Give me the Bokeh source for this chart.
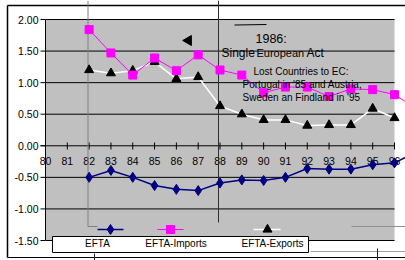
import math
from bokeh.plotting import figure
from bokeh.models import Range1d
from bokeh.core.properties import value
from bokeh.embed import file_html
from bokeh.resources import INLINE

# ---- data ----
years = [82, 83, 84, 85, 86, 87, 88, 89, 90, 91, 92, 93, 94, 95, 96, 97]
efta = [-0.50, -0.39, -0.50, -0.63, -0.69, -0.71, -0.59, -0.54, -0.55, -0.50,
        -0.36, -0.37, -0.37, -0.30, -0.27, -0.10]
efta_imports = [1.84, 1.47, 1.12, 1.39, 1.19, 1.44, 1.20, 1.12, 0.84, 0.93,
                0.93, 0.78, 0.90, 0.89, 0.81, 0.59]
efta_exports = [1.20, 1.15, 1.19, 1.33, 1.06, 1.09, 0.63, 0.50, 0.41, 0.41,
                0.32, 0.33, 0.33, 0.59, 0.44, float("nan")]
x_ticks = list(range(80, 97))
x_tick_labels = [str(v) for v in x_ticks]
y_ticks = [2.0, 1.5, 1.0, 0.5, 0.0, -0.5, -1.0, -1.5]
y_tick_labels = ["%.2f" % v for v in y_ticks]
series_names = ["EFTA", "EFTA-Imports", "EFTA-Exports"]

# ---- geometry ----
W, H = 405, 260
PXX, PXY = 21.8125, 63.143
X0 = 80 - 45 / PXX
X1 = X0 + W / PXX
Y1 = 2.0 + 19 / PXY
Y0 = Y1 - H / PXY


def px(page_x):
    return 80 + (page_x - 45) / PXX


def py(page_y):
    return 2.0 - (page_y - 19) / PXY


FONT = value("Liberation Sans")

p = figure(width=W, height=H, output_backend="svg", toolbar_location=None,
           x_range=Range1d(X0, X1), y_range=Range1d(Y0, Y1),
           x_axis_type=None, y_axis_type=None, min_border=0,
           outline_line_color=None, background_fill_color="white",
           border_fill_color="white")
p.grid.visible = False

xmin, xmax = x_ticks[0], x_ticks[-1]
ymin, ymax = y_ticks[-1], y_ticks[0]

# plot area
p.quad(left=[xmin], right=[xmax], bottom=[ymin], top=[ymax],
       fill_color="#C0C0C0", line_color=None)

# outer border
p.segment(x0=[px(7), px(7)], y0=[py(5), py(5)], x1=[X1, px(7)], y1=[py(5), py(257)],
          line_color="black", line_width=1.5)
p.segment(x0=[px(7)], y0=[py(257)], x1=[X1], y1=[py(257)],
          line_color="black", line_width=1)
p.segment(x0=[px(310)], y0=[py(251)], x1=[X1], y1=[py(251)],
          line_color="#A0A0A0", line_width=1)
p.segment(x0=[px(351)], y0=[py(226)], x1=[X1], y1=[py(226)],
          line_color="#909090", line_width=1)
p.segment(x0=[px(377), px(94)], y0=[py(248), py(253)],
          x1=[px(377), px(94)], y1=[Y0, Y0],
          line_color="#202020", line_width=1)

# gridlines
grid_y = [v for v in y_ticks if v != 0.0]
p.segment(x0=[xmin] * len(grid_y), y0=grid_y, x1=[xmax] * len(grid_y), y1=grid_y,
          line_color="black", line_width=1)
# left axis + y ticks
p.segment(x0=[xmin], y0=[ymin], x1=[xmin], y1=[ymax], line_color="black", line_width=1)
p.segment(x0=[px(40)] * len(y_ticks), y0=y_ticks, x1=[xmin] * len(y_ticks), y1=y_ticks,
          line_color="black", line_width=1)
p.text(x=[px(38)] * len(y_ticks), y=y_ticks, text=y_tick_labels,
       text_font=FONT, text_font_size="10.5px", text_align="right",
       text_baseline="middle", text_color="black")

# x axis at zero
p.segment(x0=[px(40)], y0=[0], x1=[xmax], y1=[0], line_color="black", line_width=1)
p.segment(x0=x_ticks, y0=[py(142)] * len(x_ticks), x1=x_ticks, y1=[py(149)] * len(x_ticks),
          line_color="black", line_width=1)
p.text(x=x_ticks, y=[py(160)] * len(x_ticks), text=x_tick_labels,
       text_font=FONT, text_font_size="10.5px", text_align="center",
       text_baseline="middle", text_color="black")

# stray vertical lines
p.segment(x0=[px(218)], y0=[Y1], x1=[px(218)], y1=[py(222)],
          line_color="#303030", line_width=1)
p.segment(x0=[px(87.5), px(87.5)], y0=[Y1, py(226)], x1=[px(87.5), px(97)],
          y1=[py(226), py(226)], line_color="#808080", line_width=1)

# series
p.line(years, efta_exports, line_color="white", line_width=1.5)
p.scatter(years, efta_exports, marker="triangle", size=9, fill_color="black",
          line_color="black")
p.line(years, efta_imports, line_color="#FF00FF", line_width=1)
p.scatter(years, efta_imports, marker="square", size=8, fill_color="#FF00FF",
          line_color="#FF00FF")
p.line(years, efta, line_color="#000080", line_width=1.5)
p.scatter(years, efta, marker="diamond", size=10, fill_color="#000080",
          line_color="#000080")

# annotations
p.scatter([px(188)], [py(40)], marker="triangle", angle=math.pi / 2, size=10,
          fill_color="black", line_color="black")
p.segment(x0=[px(234)], y0=[py(24.5)], x1=[px(266)], y1=[py(24)],
          line_color="black", line_width=1)
p.text(x=[px(255)], y=[py(38)], text=["1986:"], text_font=FONT,
       text_font_size="12.5px", text_align="left", text_baseline="alphabetic")
p.text(x=[px(221), px(306)], y=[py(52), py(52)], text=["Single", "Act"], text_font=FONT,
       text_font_size="12px", text_align="left", text_baseline="alphabetic")
p.text(x=[px(256)], y=[py(52)], text=["European"], text_font=FONT,
       text_font_size="11px", text_align="left", text_baseline="alphabetic")
p.text(x=[px(253), px(242), px(242)], y=[py(71), py(84), py(97)],
       text=["Lost Countries to EC:", "Portugal in '85 and Austria,",
             "Sweden an Findland in '95"],
       text_font=FONT, text_font_size="10px", text_align="left",
       text_baseline="middle")

# legend
p.quad(left=[px(52)], right=[px(308)], bottom=[py(252)], top=[py(236)],
       fill_color="white", line_color="black", line_width=1)
ly = py(229)
p.segment(x0=[px(97)], y0=[ly], x1=[px(123)], y1=[ly], line_color="#000080", line_width=1.5)
p.scatter([px(110)], [ly], marker="diamond", size=10, fill_color="#000080", line_color="#000080")
p.segment(x0=[px(157)], y0=[ly], x1=[px(183)], y1=[ly], line_color="#FF00FF", line_width=1)
p.scatter([px(170)], [ly], marker="square", size=8, fill_color="#FF00FF", line_color="#FF00FF")
p.segment(x0=[px(253)], y0=[ly], x1=[px(280)], y1=[ly], line_color="white", line_width=1.5)
p.scatter([px(267)], [ly], marker="triangle", size=9, fill_color="black", line_color="black")
p.text(x=[px(97), px(175.5), px(272)], y=[py(243)] * 3, text=series_names,
       text_font=FONT, text_font_size="10px", text_align="center",
       text_baseline="middle")

open("out.html", "w").write(file_html(p, INLINE))
